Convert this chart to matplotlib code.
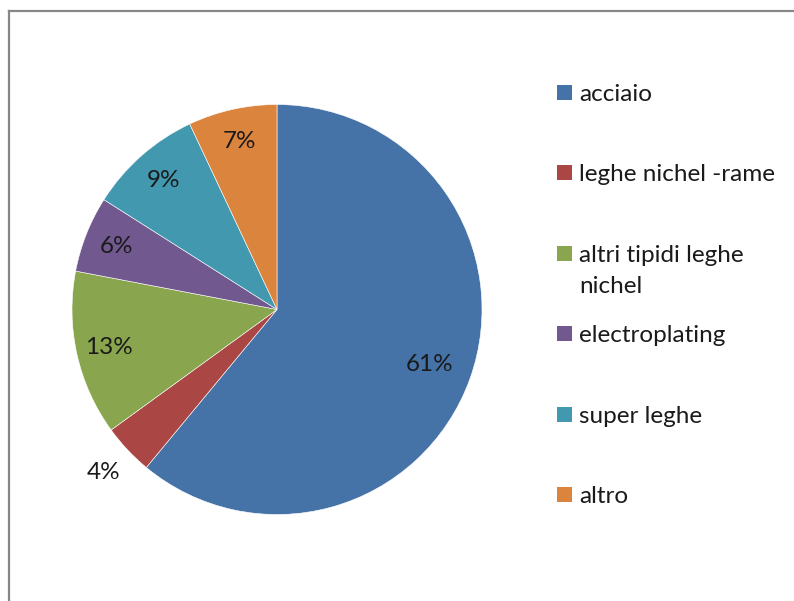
import matplotlib
matplotlib.use("Agg")
import matplotlib.pyplot as plt
import numpy as np
from matplotlib.lines import Line2D
from matplotlib.patches import Rectangle

# Share of nickel consumption by end use (%)
categories = ["acciaio", "leghe nichel -rame", "altri tipidi leghe\nnichel",
              "electroplating", "super leghe", "altro"]
shares = [61, 4, 13, 6, 9, 7]
colors = ["#4572A7", "#AA4643", "#89A54E", "#71588F", "#4198AF", "#DB843D"]

W, H = 794, 601
plt.rcParams["font.family"] = ["Lato", "DejaVu Sans"]
fig = plt.figure(figsize=(W / 100, H / 100), dpi=100)

# pie axes: centre (277, 309.5) px, radius 205 px
cx, cy, r = 277, 309.5, 205
ax = fig.add_axes([(cx - r) / W, (H - cy - r) / H, 2 * r / W, 2 * r / H])
wedges, _ = ax.pie(shares, colors=colors, startangle=90, counterclock=False,
                   radius=1.0, wedgeprops=dict(edgecolor="white", linewidth=0.4))
ax.set_xlim(-1, 1)
ax.set_ylim(-1, 1)
ax.set_aspect("equal")

# percent labels; the thin slice gets its label outside the pie,
# the big one sits a little further in
for w, v in zip(wedges, shares):
    ang = np.deg2rad((w.theta1 + w.theta2) / 2)
    if v < 5:
        d = 1.16
    elif v > 50:
        d = 0.79
    else:
        d = 0.84
    ax.text(d * np.cos(ang), d * np.sin(ang), f"{v}%", ha="center", va="center",
            fontsize=17.5, color="#1a1a1a", clip_on=False)

# legend drawn by hand: evenly spaced rows, wrapped labels continue below
row0, step, line_h = 92.5, 80.4, 31
for i, (lab, c) in enumerate(zip(categories, colors)):
    y = row0 + i * step
    fig.patches.append(Rectangle((557 / W, (H - y - 7.5) / H), 15 / W, 15 / H,
                                 transform=fig.transFigure, facecolor=c, edgecolor="none"))
    for k, line in enumerate(lab.split("\n")):
        fig.text(579 / W, (H - y - k * line_h) / H, line, ha="left", va="center_baseline",
                 fontsize=17.5, color="#1a1a1a")

# chart area border
fig.lines.append(Line2D([9 / W, 1], [(H - 11) / H] * 2, transform=fig.transFigure,
                        color="#878787", linewidth=1.6))
fig.lines.append(Line2D([9 / W] * 2, [0, (H - 11) / H], transform=fig.transFigure,
                        color="#878787", linewidth=1.6))

fig.savefig("out.png", dpi=100)
